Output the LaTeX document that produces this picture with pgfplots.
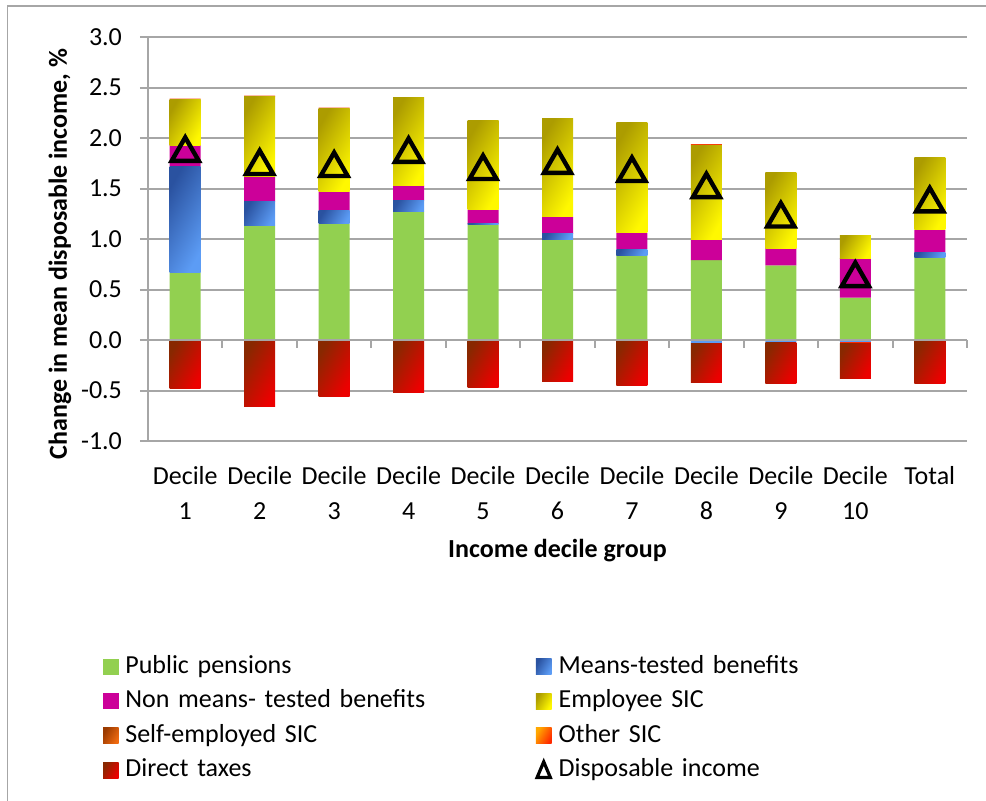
\documentclass[border=0pt]{standalone}
\usepackage{pgfplots}
\usepackage{pgfplotstable}
\pgfplotsset{compat=1.18}
\usepackage{fontspec}
\setmainfont{Carlito}

\definecolor{ppgreen}{HTML}{92D050}
\definecolor{mtdark}{HTML}{2A52A0}
\definecolor{mtmid}{HTML}{4A80E0}
\definecolor{mtlight}{HTML}{5C9CF5}
\definecolor{nmt}{HTML}{CC0099}
\definecolor{emdark}{HTML}{AC9C00}
\definecolor{emmid}{HTML}{F2E800}
\definecolor{emlight}{HTML}{FFF800}
\definecolor{sedark}{HTML}{9A3A00}
\definecolor{selight}{HTML}{F06A10}
\definecolor{osdark}{HTML}{FFA800}
\definecolor{oslight}{HTML}{FF2A00}
\definecolor{dtdark}{HTML}{882800}
\definecolor{dtmid}{HTML}{C82000}
\definecolor{dtlight}{HTML}{EC0000}
\definecolor{gridgray}{HTML}{A6A6A6}

\tikzset{
  shMT/.style={top color=mtdark, middle color=mtmid, bottom color=mtlight, shading angle=60},
  shEM/.style={top color=emdark, middle color=emmid, bottom color=emlight, shading angle=60},
  shSE/.style={top color=sedark, bottom color=selight, shading angle=60},
  shOS/.style={top color=osdark, bottom color=oslight, shading angle=60},
  shDT/.style={top color=dtdark, middle color=dtmid, bottom color=dtlight, shading angle=60},
}
\pgfplotsset{legsq/.style={legend image code/.code={\path[draw=none, #1] (0pt,-3.9pt) rectangle (7.8pt,3.9pt);}}}

% one shaded bar segment, hanging down from its top by \segh axis units (1 unit = 50.5pt)
\pgfdeclareplotmark{segMT}{\path[draw=none, shMT] (-7.75pt,0pt) rectangle (7.75pt,{-\segh*50.5pt});}
\pgfdeclareplotmark{segEM}{\path[draw=none, shEM] (-7.75pt,0pt) rectangle (7.75pt,{-\segh*50.5pt});}
\pgfdeclareplotmark{segDT}{\path[draw=none, shDT] (-7.75pt,0pt) rectangle (7.75pt,{-\segh*50.5pt});}

% pp: public pensions, mtp/mtn: means-tested (+/-), nmt: non means-tested,
% emp: employee SIC, self: self-employed SIC, oth/othn: other SIC (+/-), dt: direct taxes,
% mthi, emhi, dthi: tops of the shaded segments, di: disposable income
\pgfplotstableread{
x   pp    mtp   nmt   emp   self  oth   mtn    othn   dt     di    mthi   emhi  dthi
0   0.67  1.05  0.21  0.45  0.01  0.00  0.00   0.00   -0.48  1.89  1.72   2.38  0.00
1   1.13  0.24  0.25  0.79  0.01  0.00  0.00   0.00   -0.66  1.76  1.37   2.41  0.00
2   1.15  0.13  0.19  0.82  0.01  0.00  0.00   0.00   -0.56  1.74  1.28   2.29  0.00
3   1.27  0.11  0.15  0.87  0.00  0.00  0.00   0.00   -0.52  1.88  1.38   2.40  0.00
4   1.14  0.01  0.14  0.88  0.00  0.00  0.00   0.00   -0.47  1.71  1.15   2.17  0.00
5   1.00  0.05  0.17  0.97  0.00  0.00  0.00   0.00   -0.41  1.77  1.05   2.19  0.00
6   0.84  0.06  0.16  1.09  0.00  0.00  0.00   0.00   -0.45  1.69  0.90   2.15  0.00
7   0.79  0.00  0.21  0.93  0.01  0.00  -0.03  0.00   -0.39  1.53  nan    1.93  -0.03
8   0.74  0.00  0.17  0.75  0.00  0.00  -0.02  0.00   -0.41  1.24  nan    1.66  -0.02
9   0.42  0.00  0.39  0.22  0.00  0.00  -0.02  -0.01  -0.35  0.65  nan    1.03  -0.03
10  0.815 0.05  0.225 0.72  0.00  0.00  0.00   0.00   -0.43  1.39  0.865  1.81  0.00
}\data

\begin{document}
\begin{tikzpicture}[font=\fontsize{13}{17.25}\selectfont]
\useasboundingbox (-74pt,-179.5pt) rectangle (419pt,220.5pt);
\draw[gridgray, line width=0.8pt] (-70.3pt,-180pt) -- (-70.3pt,217.5pt) -- (420pt,217.5pt);
\begin{axis}[
  reverse stacked plots=false,
  at={(0pt,0pt)}, anchor=south west, scale only axis,
  width=409.5pt, height=202pt,
  xmin=-0.5, xmax=10.5, ymin=-1, ymax=3,
  ybar stacked, bar width=15.5pt,
  axis x line*=bottom, axis y line*=left,
  x axis line style={draw=none},
  y axis line style={-, gridgray, line width=1pt},
  xtick={0,...,10},
  xticklabels={{Decile\\1},{Decile\\2},{Decile\\3},{Decile\\4},{Decile\\5},{Decile\\6},{Decile\\7},{Decile\\8},{Decile\\9},{Decile\\10},{Total}},
  xtick style={draw=none},
  tick label style={font=\fontsize{13}{17.5}\selectfont},
  xticklabel style={align=center, anchor=north, yshift=-5pt},
  ytick={-1,-0.5,0,0.5,1,1.5,2,2.5,3},
  yticklabels={-1.0,-0.5,0.0,0.5,1.0,1.5,2.0,2.5,3.0},
  ytick style={gridgray, line width=1pt},
  tick align=outside, major tick length=4pt,
  yticklabel style={anchor=east, xshift=-5.5pt},
  ymajorgrids, grid style={gridgray, line width=1pt},
  ylabel={\bfseries Change in mean disposable income, \%},
  xlabel={\bfseries Income decile group},
  label style={font=\fontsize{13.2}{16}\selectfont},
  every axis y label/.style={at={(axis description cs:-0.1075,0.463)}, rotate=90, anchor=center},
  every axis x label/.style={at={(axis description cs:0.5,-0.272)}, anchor=center},
  legend columns=2,
  legend cell align=left,
  legend style={draw=none, fill=none, at={(axis description cs:-0.0549,-0.516)}, anchor=north west,
    inner sep=0pt, outer sep=0pt, column sep=3.35pt,
    font=\fontsize{13}{17.25}\selectfont,
    nodes={inner sep=0pt, text width=201.75pt, text height=9.5pt, text depth=3pt, minimum height=17.25pt}},
]
% negative stack (stacked downward from zero)
\addplot[draw=none, fill=mtlight, forget plot] table[x=x, y=mtn] {\data};
\addplot[draw=none, fill=oslight, forget plot] table[x=x, y=othn] {\data};
\addplot[draw=none, fill=none, forget plot] table[x=x, y=dt] {\data};
% positive stack
\addplot[draw=none, fill=ppgreen, forget plot] table[x=x, y=pp] {\data};
\addplot[draw=none, fill=none, forget plot] table[x=x, y=mtp] {\data};
\addplot[draw=none, fill=nmt, forget plot] table[x=x, y=nmt] {\data};
\addplot[draw=none, fill=none, forget plot] table[x=x, y=emp] {\data};
\addplot[draw=none, fill=selight!60!red, forget plot] table[x=x, y=self] {\data};
\addplot[draw=none, fill=osdark, forget plot] table[x=x, y=oth] {\data};
% shaded segments, one per bar
\addplot[stack plots=false, sharp plot, only marks, draw=none, mark=segMT, unbounded coords=discard, forget plot,
  visualization depends on={\thisrow{mtp} \as \segh}] table[x=x, y=mthi] {\data};
\addplot[stack plots=false, sharp plot, only marks, draw=none, mark=segEM, unbounded coords=discard, forget plot,
  visualization depends on={\thisrow{emp} \as \segh}] table[x=x, y=emhi] {\data};
\addplot[stack plots=false, sharp plot, only marks, draw=none, mark=segDT, unbounded coords=discard, forget plot,
  visualization depends on={abs(\thisrow{dt}) \as \segh}] table[x=x, y=dthi] {\data};
% disposable income
\addplot[stack plots=false, sharp plot, only marks, mark=triangle, mark size=7.8pt, line width=2.2pt, black, mark options={yshift=-1.95pt}, forget plot] table[x=x, y=di] {\data};

\addlegendimage{legsq={fill=ppgreen}}
\addlegendentry{Public pensions}
\addlegendimage{legsq={shMT}}
\addlegendentry{Means-tested benefits}
\addlegendimage{legsq={fill=nmt}}
\addlegendentry{Non means- tested benefits}
\addlegendimage{legsq={shEM}}
\addlegendentry{Employee SIC}
\addlegendimage{legsq={shSE}}
\addlegendentry{Self-employed SIC}
\addlegendimage{legsq={shOS}}
\addlegendentry{Other SIC}
\addlegendimage{legsq={shDT}}
\addlegendentry{Direct taxes}
\addlegendimage{legend image code/.code={\draw[black, line width=1.6pt] (0.6pt,-3.6pt) -- (7.2pt,-3.6pt) -- (3.9pt,4.2pt) -- cycle;}}
\addlegendentry{Disposable income}
\end{axis}
% horizontal axis line at zero and category separator ticks (axis spans 409.5pt, 11 categories)
\draw[gridgray, line width=1pt] (0pt,50.5pt) -- (409.5pt,50.5pt);
\foreach \i in {0,...,11}{
  \draw[gridgray, line width=1pt] ({\i*37.2273pt},50.5pt) -- ++(0pt,-4pt);
}
\end{tikzpicture}
\end{document}
